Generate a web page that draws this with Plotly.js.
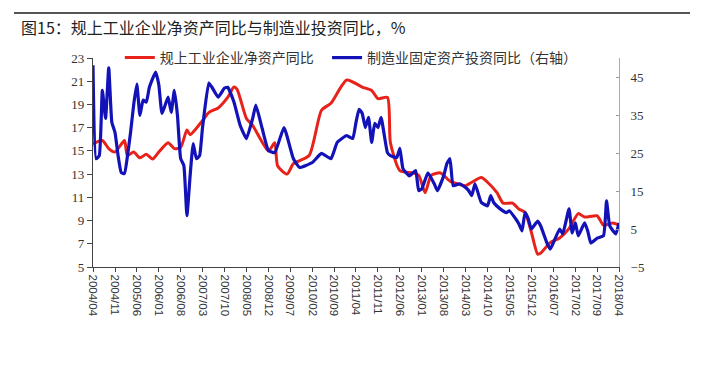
<!DOCTYPE html>
<html>
<head>
<meta charset="utf-8">
<script src="https://cdn.plot.ly/plotly-3.0.1.min.js"></script>
<style>html,body{margin:0;padding:0;background:#fff;}#chart{width:704px;height:372px;}</style>
</head>
<body>
<div id="chart"></div>
<script>
// Red series: 规上工业企业净资产同比 (left axis)
const redDates = ['2004-04','2004-07','2004-09','2004-11','2005-02','2005-03','2005-05','2005-07','2005-09','2005-11',
'2006-01','2006-04','2006-06','2006-08','2006-10','2006-11','2007-03','2007-05','2007-08','2007-11',
'2008-01','2008-02','2008-05','2008-07','2008-12','2009-02','2009-03','2009-06','2009-08','2010-01',
'2010-05','2010-08','2011-01','2011-06','2011-09','2011-11','2012-02','2012-03','2012-06','2012-10',
'2012-12','2013-02','2013-04','2013-07','2013-10','2014-03','2014-05','2014-08','2014-10','2015-01',
'2015-03','2015-06','2015-08','2015-10','2015-12','2016-02','2016-03','2016-06','2016-09','2016-12',
'2017-03','2017-05','2017-09','2017-11','2018-02','2018-04'];
const redValues = [15.6,15.9,15.2,14.9,15.9,14.6,14.9,14.4,14.7,14.3,
14.9,15.7,15.2,15.3,16.8,16.4,17.6,18.3,18.7,19.6,
20.5,20.3,17.8,17.2,15.0,15.7,13.7,13.0,13.9,14.6,
18.5,19.1,21.1,20.5,20.2,19.5,19.6,15.7,13.3,13.1,
12.9,11.4,12.9,13.1,12.4,12.0,12.3,12.7,12.3,11.4,
10.5,10.5,10.0,9.7,8.0,6.1,6.2,7.1,7.5,8.3,
9.6,9.3,9.4,8.6,8.8,8.6];

// Blue series: 制造业固定资产投资同比（右轴）
const blueDates = ['2004-04','2004-05','2004-06','2004-07','2004-08','2004-09','2004-10','2004-11','2004-12','2005-01',
'2005-02','2005-03','2005-04','2005-05','2005-06','2005-07','2005-08','2005-09','2005-10','2005-12',
'2006-01','2006-02','2006-04','2006-05','2006-06','2006-07','2006-08','2006-09','2006-10','2006-11',
'2006-12','2007-01','2007-02','2007-03','2007-05','2007-06','2007-08','2007-10','2007-11','2008-01',
'2008-03','2008-05','2008-07','2008-08','2008-10','2008-12','2009-02','2009-05','2009-08','2009-10',
'2010-02','2010-05','2010-08','2010-10','2011-01','2011-03','2011-04','2011-05','2011-06','2011-07',
'2011-08','2011-09','2011-10','2011-11','2011-12','2012-02','2012-03','2012-05','2012-06','2012-07',
'2012-09','2012-11','2012-12','2013-01','2013-03','2013-05','2013-06','2013-08','2013-09','2013-10',
'2013-11','2014-01','2014-03','2014-04','2014-05','2014-06','2014-08','2014-10','2014-11','2014-12',
'2015-02','2015-04','2015-05','2015-07','2015-08','2015-09','2015-10','2015-11','2015-12','2016-02',
'2016-03','2016-05','2016-06','2016-07','2016-09','2016-10','2016-12','2017-01','2017-02','2017-03',
'2017-05','2017-06','2017-07','2017-09','2017-11','2017-12','2018-01','2018-03','2018-04'];
const blueValues = [48.1,23.5,24.3,41.5,34.1,47.4,33.1,30.4,24.3,19.8,
19.6,24.0,30.4,37.6,43.1,34.9,38.9,38.4,42.3,46.3,
42.9,35.4,39.7,35.7,41.5,34.9,23.5,21.7,8.5,19.0,
27.5,23.5,24.3,31.5,43.4,42.3,39.7,42.1,42.3,38.4,
32.3,28.8,34.1,37.6,31.5,25.7,25.1,31.7,23.5,21.2,
22.5,24.9,23.5,27.8,29.6,28.8,33.0,36.5,35.4,31.7,
34.4,27.8,32.8,31.7,34.4,25.1,24.3,23.8,26.2,20.9,
19.0,20.4,15.1,15.6,19.8,16.9,15.1,19.0,22.2,23.5,
16.4,16.9,15.9,15.1,13.8,16.9,12.0,11.1,13.8,11.9,
10.3,9.3,9.8,7.7,6.4,4.5,9.3,7.7,5.0,7.1,
5.8,1.3,-0.3,1.3,5.0,3.7,10.3,4.0,6.6,3.2,
6.6,4.5,1.3,2.6,3.2,12.4,5.8,3.7,6.6];

const tickLabels = ['2004/04','2004/11','2005/06','2006/01','2006/08','2007/03','2007/10','2008/05','2008/12',
'2009/07','2010/02','2010/09','2011/04','2011/11','2012/06','2013/01','2013/08','2014/03','2014/10',
'2015/05','2015/12','2016/07','2017/02','2017/09','2018/04'];
const leftTicks = [5,7,9,11,13,15,17,19,21,23];
const rightTicks = [-5,5,15,25,35,45];

const seriesNames = ['规上工业企业净资产同比','制造业固定资产投资同比（右轴）'];
const titleText = '图15：规上工业企业净资产同比与制造业投资同比，%';

const toDate = s => s + '-01';

const traces = [
  {x: redDates.map(toDate), y: redValues, name: seriesNames[0], type: 'scatter', mode: 'lines',
   line: {color: '#e8221b', width: 3, shape: 'spline', smoothing: 0.6}, yaxis: 'y', legend: 'legend'},
  {x: blueDates.map(toDate), y: blueValues, name: seriesNames[1], type: 'scatter', mode: 'lines',
   line: {color: '#1212b8', width: 3.2, shape: 'spline', smoothing: 0.4}, yaxis: 'y2', legend: 'legend2'}
];

const legendFont = {family: 'Noto Sans CJK SC', size: 14, color: '#333'};

const layout = {
  width: 704, height: 372,
  margin: {l: 93, r: 85, t: 58, b: 105},
  paper_bgcolor: '#fff', plot_bgcolor: '#fff',
  showlegend: true,
  title: {text: titleText, x: 21/704, xanchor: 'left', xref: 'container', y: 1 - 28/372, yanchor: 'middle', yref: 'container',
          font: {family: 'Noto Sans CJK SC', size: 16, color: '#222'}},
  legend: {orientation: 'h', x: 0.051, xanchor: 'left', y: 1.0, yanchor: 'middle', bgcolor: 'rgba(0,0,0,0)',
           font: legendFont, itemwidth: 30},
  legend2: {orientation: 'h', x: 0.445, xanchor: 'left', y: 1.0, yanchor: 'middle', bgcolor: 'rgba(0,0,0,0)',
           font: legendFont, itemwidth: 30},
  xaxis: {type: 'date', range: ['2004-04-01', '2018-04-01'],
          tickvals: tickLabels.map(t => t.replace('/', '-') + '-01'), ticktext: tickLabels,
          tickangle: 90, ticks: 'outside', ticklen: 4, tickcolor: '#444',
          showline: true, linecolor: '#444', linewidth: 1.2, showgrid: false, zeroline: false,
          tickfont: {family: 'Liberation Sans', size: 11.5, color: '#333'}},
  yaxis: {range: [5, 23], tickvals: leftTicks, ticks: 'outside', ticklen: 5, tickcolor: '#444',
          showline: true, linecolor: '#444', linewidth: 1.2, showgrid: false, zeroline: false,
          tickfont: {family: 'Liberation Serif', size: 13, color: '#333'}},
  yaxis2: {range: [-5, 50], tickvals: rightTicks, overlaying: 'y', side: 'right', ticks: 'inside', ticklen: 3,
           tickcolor: '#999', showline: true, linecolor: '#aaa', linewidth: 1, showgrid: false, zeroline: false,
           ticklabelstandoff: 8,
           tickfont: {family: 'Liberation Serif', size: 13, color: '#333'}},
  shapes: [{type: 'line', xref: 'paper', yref: 'paper', x0: (14-93)/526, x1: (690-93)/526,
            y0: (267-13)/209, y1: (267-13)/209, line: {color: '#555', width: 2}}]
};

Plotly.newPlot('chart', traces, layout, {displayModeBar: false, staticPlot: true});
</script>
</body>
</html>
